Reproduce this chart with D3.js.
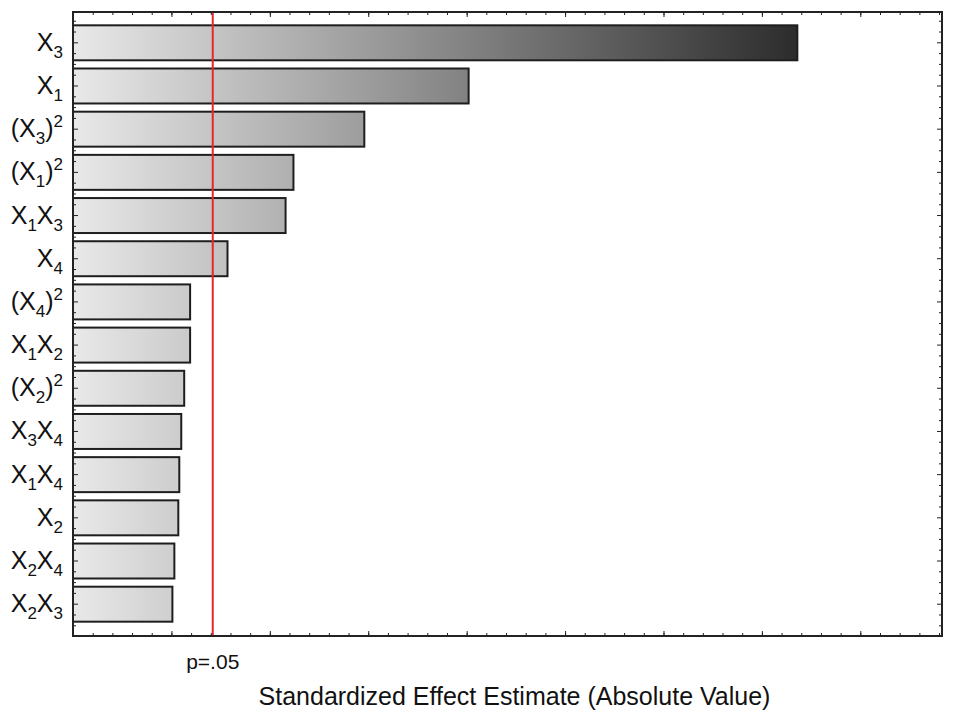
<!DOCTYPE html>
<html>
<head>
<meta charset="utf-8">
<script src="https://cdn.jsdelivr.net/npm/d3@7"></script>
<style>
  body { margin: 0; background: #fff; }
  text { font-family: "Liberation Sans", Arial, sans-serif; fill: #111; }
</style>
</head>
<body>
<svg class="chart"></svg>
<script>
// DATA
var terms = ["X3", "X1", "(X3)^2", "(X1)^2", "X1X3", "X4", "(X4)^2", "X1X2",
             "(X2)^2", "X3X4", "X1X4", "X2", "X2X4", "X2X3"];
var effects = [7.36, 4.02, 2.96, 2.24, 2.16, 1.57, 1.19, 1.19, 1.13, 1.10, 1.08, 1.07, 1.03, 1.01];
var critical = 1.42;
var critLabel = "p=.05";
var xTitle = "Standardized Effect Estimate (Absolute Value)";

var W = 961, H = 712;
var margin = {top: 12, right: 19, bottom: 76, left: 73};
var width = W - margin.left - margin.right,
    height = H - margin.top - margin.bottom;

var svg = d3.select(".chart").attr("width", W).attr("height", H);

var g = svg.append("g")
    .attr("transform", "translate(" + margin.left + "," + margin.top + ")");

// SCALES
var x = d3.scaleLinear().domain([0, 8.83]).range([0, width]);
var y = d3.scaleBand().domain(terms).range([9, height - 10]).paddingInner(0.19).paddingOuter(0.1);

// GRADIENT (spans the plot horizontally)
var defs = svg.append("defs");
var grad = defs.append("linearGradient")
    .attr("id", "barGrad")
    .attr("gradientUnits", "userSpaceOnUse")
    .attr("x1", x(0)).attr("x2", x(d3.max(effects)))
    .attr("y1", 0).attr("y2", 0);
grad.append("stop").attr("offset", "0%").attr("stop-color", "#e9e9e9");
grad.append("stop").attr("offset", "100%").attr("stop-color", "#2c2c2c");

// BARS
g.selectAll(".bar").data(terms).enter().append("rect")
    .attr("class", "bar")
    .attr("x", x(0))
    .attr("y", function(d) { return y(d); })
    .attr("width", function(d, i) { return x(effects[i]) - x(0); })
    .attr("height", y.bandwidth())
    .attr("fill", "url(#barGrad)")
    .attr("stroke", "#1e1e1e")
    .attr("stroke-width", 2);

// CRITICAL LINE
g.append("line")
    .attr("x1", x(critical)).attr("x2", x(critical))
    .attr("y1", 0).attr("y2", height)
    .attr("stroke", "#e8262a")
    .attr("stroke-width", 2);

// X AXES (top & bottom, inward ticks, no labels)
function xAxisTicks(axisFn, ty, step, len) {
  var ticks = d3.range(0, 8.83 + 1e-9, step);
  g.append("g")
    .attr("transform", "translate(0," + ty + ")")
    .call(axisFn(x).tickValues(ticks).tickSize(len).tickFormat(""))
    .call(function(s) { s.select(".domain").remove(); s.selectAll("line").attr("stroke", "#222"); });
}
xAxisTicks(d3.axisBottom, height, 0.2, -3);
xAxisTicks(d3.axisBottom, height, 1, -5);
xAxisTicks(d3.axisTop, 0, 0.2, -3);
xAxisTicks(d3.axisTop, 0, 1, -5);

// Y AXES TICKS (quarter band steps)
var step = y.step();
var yTicks = [];
terms.forEach(function(t) {
  var c = y(t) + y.bandwidth() / 2;
  yTicks.push({y: c - step / 2, major: false});
  yTicks.push({y: c - step / 4, major: false});
  yTicks.push({y: c, major: true});
  yTicks.push({y: c + step / 4, major: false});
});
yTicks.push({y: y(terms[terms.length - 1]) + y.bandwidth() / 2 + step / 2, major: false});

[0, width].forEach(function(px, side) {
  var dir = side === 0 ? 1 : -1;
  g.selectAll(".yt" + side).data(yTicks).enter().append("line")
    .attr("x1", px)
    .attr("x2", function(d) { return px + dir * (d.major ? 5 : 3); })
    .attr("y1", function(d) { return d.y; })
    .attr("y2", function(d) { return d.y; })
    .attr("stroke", "#222");
});

// FRAME
g.append("rect")
    .attr("width", width).attr("height", height)
    .attr("fill", "none")
    .attr("stroke", "#222")
    .attr("stroke-width", 2);

// CATEGORY LABELS with subscripts / superscripts
var labels = g.selectAll(".lab").data(terms).enter().append("text")
    .attr("class", "lab")
    .attr("x", -10)
    .attr("y", function(d) { return y(d) + y.bandwidth() / 2 + 8; })
    .attr("text-anchor", "end")
    .style("font-size", "25px");

labels.each(function(d) {
  var el = d3.select(this);
  var parts = d.match(/\^2|\d|[^\d^]+/g);
  var shift = 0;
  parts.forEach(function(p) {
    var ts = el.append("tspan");
    if (p === "^2") {
      ts.text("2").style("font-size", "17px").attr("dy", -10 - shift);
      shift = -10;
    } else if (/\d/.test(p)) {
      ts.text(p).style("font-size", "17px").attr("dy", 7 - shift);
      shift = 7;
    } else {
      ts.text(p).attr("dy", -shift);
      shift = 0;
    }
  });
});

// P LABEL
g.append("text")
    .attr("x", x(critical))
    .attr("y", height + 33)
    .attr("text-anchor", "middle")
    .style("font-size", "21px")
    .text(critLabel);

// X TITLE
g.append("text")
    .attr("x", width / 2 + 7)
    .attr("y", height + 69)
    .attr("text-anchor", "middle")
    .style("font-size", "25px")
    .text(xTitle);
</script>
</body>
</html>
